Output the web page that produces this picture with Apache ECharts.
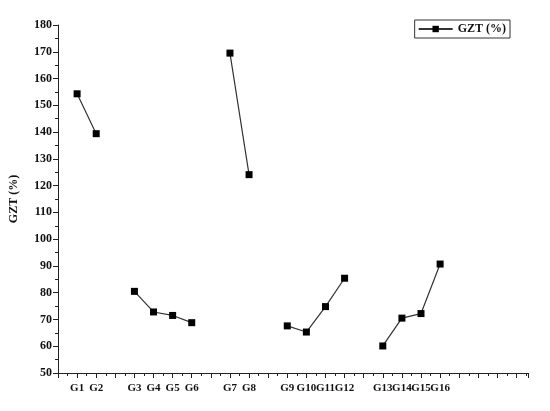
<!DOCTYPE html>
<html style="height: 100%;width:100%">
<head>
<meta charset="utf-8">
<script src="https://cdn.jsdelivr.net/npm/echarts@6/dist/echarts.min.js"></script>
</head>
<body style="height: 100%; width:100%; margin:0">
<div id="chart-panel" style="width:550px;height:411px"></div>
<script type="text/javascript">
// sample names, their x positions (gaps between groups) and GZT values
var names = ['G1', 'G2', 'G3', 'G4', 'G5', 'G6', 'G7', 'G8',
    'G9', 'G10', 'G11', 'G12', 'G13', 'G14', 'G15', 'G16'];
var positions = [1, 2, 4, 5, 6, 7, 9, 10, 12, 13, 14, 15, 17, 18, 19, 20];
var gzt = [154.3, 139.4, 80.5, 72.8, 71.5, 68.8, 169.5, 124.1,
    67.6, 65.3, 74.8, 85.4, 60.1, 70.5, 72.2, 90.7];
var yTicks = [50, 60, 70, 80, 90, 100, 110, 120, 130, 140, 150, 160, 170, 180];

var myChart = echarts.init(document.getElementById('chart-panel'));

var nameAt = {};
var data = [];
for (var i = 0; i < names.length; i++) {
    nameAt[positions[i]] = names[i];
    // break the line where positions skip a slot
    if (i > 0 && positions[i] - positions[i - 1] > 1) {
        data.push([positions[i] - 1, '-']);
    }
    data.push([positions[i], gzt[i]]);
}

var serif = 'Liberation Serif';

var option = {
    backgroundColor: '#fff',
    animation: false,
    grid: {left: 56, right: 22, top: 25, bottom: 38},
    legend: {
        data: ['GZT (%)'],
        right: 40,
        top: 20,
        itemWidth: 34,
        itemHeight: 8,
        itemGap: 4,
        padding: [3, 4, 3, 3],
        borderColor: '#333',
        borderWidth: 1,
        borderRadius: 0,
        textStyle: {fontFamily: serif, fontSize: 12, fontWeight: 'bold', color: '#111'}
    },
    xAxis: {
        type: 'value',
        min: 0,
        max: 24.6,
        interval: 1,
        splitLine: {show: false},
        axisLine: {lineStyle: {color: '#222', width: 1}},
        axisTick: {length: 5, lineStyle: {color: '#222'}},
        minorTick: {show: true, splitNumber: 2, length: 3, lineStyle: {color: '#222'}},
        axisLabel: {
            margin: 10,
            fontFamily: serif,
            fontSize: 11,
            fontWeight: 'bold',
            color: '#111',
            showMaxLabel: false,
            formatter: function (v) { return nameAt[v] || ''; }
        }
    },
    yAxis: {
        type: 'value',
        min: yTicks[0],
        max: yTicks[yTicks.length - 1],
        interval: 10,
        name: 'GZT (%)',
        nameLocation: 'middle',
        nameGap: 38,
        nameTextStyle: {fontFamily: serif, fontSize: 12, fontWeight: 'bold', color: '#111'},
        splitLine: {show: false},
        axisLine: {show: true, lineStyle: {color: '#222', width: 1}},
        axisTick: {length: 5, lineStyle: {color: '#222'}},
        minorTick: {show: true, splitNumber: 2, length: 3, lineStyle: {color: '#222'}},
        axisLabel: {
            margin: 6,
            fontFamily: serif,
            fontSize: 12,
            fontWeight: 'bold',
            color: '#111'
        }
    },
    series: [{
        name: 'GZT (%)',
        type: 'line',
        data: data,
        connectNulls: false,
        symbol: 'rect',
        symbolSize: 7,
        itemStyle: {color: '#000'},
        lineStyle: {color: '#333', width: 1.2}
    }]
};

myChart.setOption(option);
</script>
</body>
</html>
